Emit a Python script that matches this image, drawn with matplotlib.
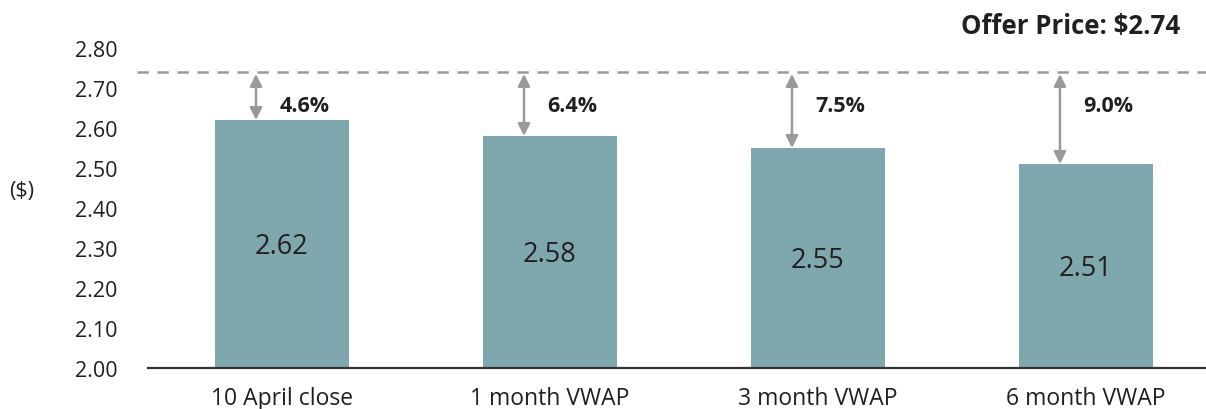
import matplotlib.pyplot as plt

# Share price benchmarks vs. the offer price
categories = ['10 April close', '1 month VWAP', '3 month VWAP', '6 month VWAP']
prices = [2.62, 2.58, 2.55, 2.51]
premiums = ['4.6%', '6.4%', '7.5%', '9.0%']
offer_price = 2.74
yticks = [2.00, 2.10, 2.20, 2.30, 2.40, 2.50, 2.60, 2.70, 2.80]

BAR_COLOR = '#7ea7ae'
GREY = '#9a9a9c'
TEXT = '#231f20'

plt.rcParams['font.family'] = ['Open Sans', 'DejaVu Sans']

fig = plt.figure(figsize=(12.06, 4.10), dpi=100)
ax = fig.add_axes([148 / 1206, 41 / 410, 1 - 148 / 1206, 1 - 41 / 410])

x = list(range(len(categories)))
ax.bar(x, [p - 2.0 for p in prices], bottom=2.0, width=0.5, color=BAR_COLOR)

# value inside each bar
for xi, p in zip(x, prices):
    ax.text(xi, (2.0 + p) / 2 - 0.005, f'{p:.2f}', ha='center', va='center',
            fontsize=19.5, color=TEXT)

# offer price reference line
ax.axhline(offer_price, xmin=-0.01, color=GREY, lw=1.8, ls=(0, (4.5, 3.5)),
           clip_on=False)
ax.text(3.35, 2.855, 'Offer Price: $2.74', ha='right', va='center',
        fontsize=18.5, fontweight='bold', color=TEXT)

# premium arrows between bar tops and offer price
for xi, p, lab in zip(x, prices, premiums):
    ax.annotate('', xy=(xi - 0.097, p), xytext=(xi - 0.097, offer_price - 0.005),
                arrowprops=dict(arrowstyle='<|-|>', color=GREY, lw=1.8,
                                mutation_scale=18, shrinkA=0, shrinkB=0))
    ax.text(xi - 0.01, 2.657, lab, ha='left', va='center', fontsize=15.5,
            fontweight='bold', color=TEXT)

ax.set_xlim(-0.5, 3.448)
ax.set_ylim(2.0, 2.9225)
ax.set_yticks(yticks)
ax.set_yticklabels([f'{t:.2f}' for t in yticks])
ax.set_xticks(x)
ax.set_xticklabels(categories)
ax.tick_params(axis='y', length=0, pad=22, labelsize=15.5, labelcolor=TEXT)
ax.tick_params(axis='x', length=0, pad=13, labelsize=16.5, labelcolor=TEXT)

for side in ['left', 'right', 'top']:
    ax.spines[side].set_visible(False)
ax.spines['bottom'].set_color('#333333')
ax.spines['bottom'].set_linewidth(1.6)

fig.text(22 / 1206, 1 - 192 / 410, '($)', ha='center', va='center',
         fontsize=15.5, color=TEXT)

fig.savefig('out.png', dpi=100)
